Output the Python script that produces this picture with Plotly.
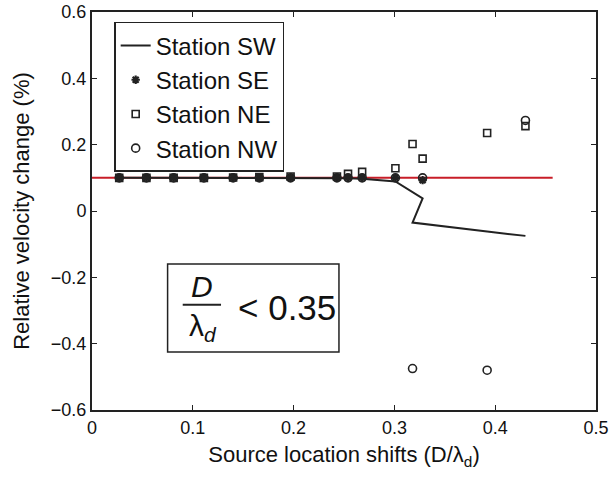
import plotly.graph_objects as go

# Source location shift D/lambda_d for each test case (shared by all stations)
shift = [0.027, 0.054, 0.081, 0.111, 0.140, 0.166, 0.197, 0.243, 0.254,
         0.268, 0.301, 0.328, 0.318, 0.392, 0.430]

# Relative velocity change (%) per station
station_sw = [0.100, 0.100, 0.100, 0.100, 0.100, 0.100, 0.100, 0.100, 0.099,
              0.097, 0.089, 0.038, -0.035, -0.062, -0.075]
station_se = [0.100, 0.100, 0.100, 0.100, 0.100, 0.100, 0.100, 0.100, 0.100,
              0.100, 0.100, 0.093, None, None, None]
station_ne = [0.100, 0.100, 0.100, 0.100, 0.101, 0.102, 0.104, 0.104, 0.112,
              0.118, 0.129, 0.158, 0.202, 0.235, 0.256]
station_nw = [0.100, 0.100, 0.100, 0.100, 0.100, 0.100, 0.100, 0.100, 0.100,
              0.100, 0.100, 0.100, -0.475, -0.480, 0.273]

# True velocity change used as reference
ref_x = [0.0, 0.457]
ref_y = [0.1, 0.1]

FONT = "Liberation Sans, Arial, Helvetica, sans-serif"
INK = "#222222"

fig = go.Figure()
fig.add_trace(go.Scatter(x=ref_x, y=ref_y, mode="lines",
                         line=dict(color="#c81e28", width=2),
                         showlegend=False, hoverinfo="skip"))
fig.add_trace(go.Scatter(x=shift, y=station_sw, mode="lines", name="Station SW",
                         line=dict(color=INK, width=2)))
fig.add_trace(go.Scatter(x=shift, y=station_se, mode="markers", name="Station SE",
                         marker=dict(symbol="asterisk-open", size=7, color=INK,
                                     line=dict(color=INK, width=2.2))))
fig.add_trace(go.Scatter(x=shift, y=station_ne, mode="markers", name="Station NE",
                         marker=dict(symbol="square-open", size=7, color=INK,
                                     line=dict(color=INK, width=1.6))))
fig.add_trace(go.Scatter(x=shift, y=station_nw, mode="markers", name="Station NW",
                         marker=dict(symbol="circle-open", size=8, color=INK,
                                     line=dict(color=INK, width=1.6))))

axis_common = dict(showgrid=False, zeroline=False, showline=True, mirror="ticks",
                   linecolor=INK, linewidth=2, ticks="inside", ticklen=5,
                   tickcolor=INK, tickwidth=1, automargin=False,
                   tickfont=dict(family=FONT, size=18, color="#111"))

fig.update_xaxes(range=[0, 0.5], tickvals=[0, 0.1, 0.2, 0.3, 0.4, 0.5],
                 ticktext=["0", "0.1", "0.2", "0.3", "0.4", "0.5"],
                 title=dict(text="Source location shifts (D/λ<sub>d</sub>)",
                            font=dict(family=FONT, size=22, color="#111"),
                            standoff=10),
                 **axis_common)
fig.update_yaxes(range=[-0.6, 0.6], tickvals=[-0.6, -0.4, -0.2, 0, 0.2, 0.4, 0.6],
                 ticktext=["−0.6", "−0.4", "−0.2", "0", "0.2", "0.4", "0.6"],
                 title=dict(text="Relative velocity change (%)",
                            font=dict(family=FONT, size=22, color="#111"),
                            standoff=15),
                 **axis_common)

# Boxed inequality D/lambda_d < 0.35
fig.add_shape(type="rect", xref="x", yref="y", x0=0.075, x1=0.245, y0=-0.425, y1=-0.16,
              line=dict(color=INK, width=1.5), fillcolor="white")
fig.add_shape(type="line", xref="x", yref="y", x0=0.090, x1=0.128, y0=-0.283, y1=-0.283,
              line=dict(color=INK, width=2))
fig.add_annotation(x=0.109, y=-0.228, xref="x", yref="y", text="<i>D</i>",
                   showarrow=False, font=dict(family=FONT, size=30, color="#111"))
fig.add_annotation(x=0.110, y=-0.350, xref="x", yref="y", text="λ<sub><i>d</i></sub>",
                   showarrow=False, font=dict(family=FONT, size=30, color="#111"))
fig.add_annotation(x=0.193, y=-0.292, xref="x", yref="y", text="< 0.35",
                   showarrow=False, font=dict(family=FONT, size=35, color="#111"))

fig.update_layout(
    width=611, height=477,
    margin=dict(l=92, r=15, t=12, b=67),
    paper_bgcolor="white", plot_bgcolor="white",
    font=dict(family=FONT, color="#111"),
    legend=dict(x=0.044, y=0.975, xanchor="left", yanchor="top",
                bgcolor="white", bordercolor=INK, borderwidth=1.5,
                font=dict(family=FONT, size=24, color="#111"),
                tracegroupgap=0, itemwidth=30),
)

fig.write_html("out.html")
